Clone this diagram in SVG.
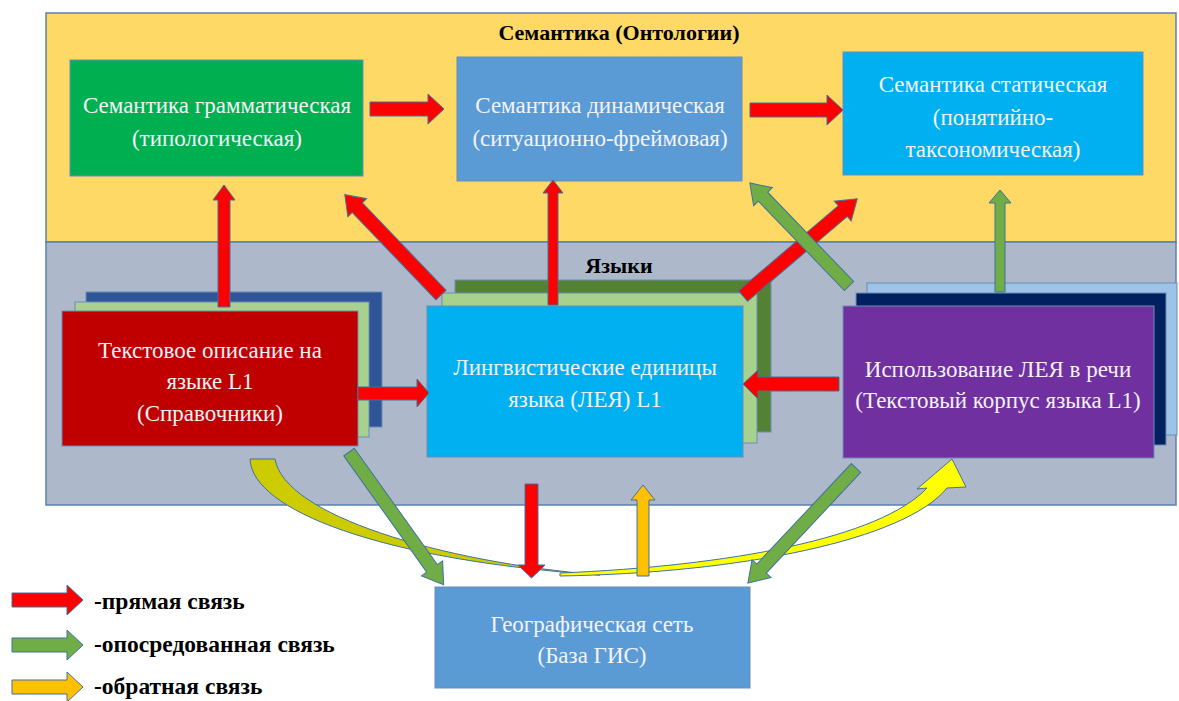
<svg xmlns="http://www.w3.org/2000/svg" width="1179" height="701" viewBox="0 0 1179 701">
<style>
.panel{stroke:#5B80B0;stroke-width:1.5}
.box{stroke:#6A8DB8;stroke-width:1}
.t{font-family:"Liberation Serif","Times New Roman",serif;font-size:23px;fill:#F4F2F8;text-anchor:middle}
.h{font-family:"Liberation Serif","Times New Roman",serif;font-size:22px;font-weight:bold;fill:#000;text-anchor:middle}
.lg{font-family:"Liberation Serif","Times New Roman",serif;font-size:23.5px;font-weight:bold;fill:#000}
.ar{stroke:#41719C;stroke-width:1;stroke-linejoin:miter}
.red{fill:#FF0000}.grn{fill:#70AD47}.org{fill:#FFC000}
</style>
<rect width="1179" height="701" fill="#FFFFFF"/>
<g id="panel-semantics">
<rect class="panel" x="46" y="13" width="1130" height="229" fill="#FFD966"/>
<text class="h" x="619" y="40">Семантика (Онтологии)</text>
</g>
<g id="panel-languages">
<rect class="panel" x="46" y="242" width="1130" height="263" fill="#ADB9CA"/>
<text class="h" x="619" y="273">Языки</text>
</g>
<g id="node-gram">
<rect class="box" x="70" y="60" width="293" height="116" fill="#00B050"/>
<text class="t" x="217" y="113">Семантика грамматическая</text>
<text class="t" x="217" y="146">(типологическая)</text>
</g>
<g id="node-dyn">
<rect class="box" x="457" y="57" width="285" height="124" fill="#5B9BD5"/>
<text class="t" x="600" y="113">Семантика динамическая</text>
<text class="t" x="600" y="146">(ситуационно-фреймовая)</text>
</g>
<g id="node-stat">
<rect class="box" x="843" y="52" width="300" height="123" fill="#00B0F0"/>
<text class="t" x="993" y="92">Семантика статическая</text>
<text class="t" x="993" y="125">(понятийно-</text>
<text class="t" x="993" y="157">таксономическая)</text>
</g>
<g id="node-text">
<rect x="86" y="292" width="296" height="135" fill="#2F5597" class="box"/>
<rect x="75" y="302" width="294" height="135" fill="#A9D18E" class="box"/>
<rect class="box" x="62" y="311" width="296" height="135" fill="#C00000"/>
<text class="t" x="210" y="358">Текстовое описание на</text>
<text class="t" x="210" y="389">языке L1</text>
<text class="t" x="210" y="421">(Справочники)</text>
</g>
<g id="node-lea">
<rect x="455" y="280" width="316" height="152" fill="#548235" class="box"/>
<rect x="442" y="293" width="315" height="150" fill="#A9D18E" class="box"/>
<rect class="box" x="427" y="306" width="316" height="151" fill="#00B0F0"/>
<text class="t" x="585" y="375">Лингвистические единицы</text>
<text class="t" x="585" y="407">языка (ЛЕЯ) L1</text>
</g>
<g id="node-usage">
<rect x="867" y="283" width="310" height="152" fill="#9DC3E6" class="box"/>
<rect x="856" y="293" width="310" height="152" fill="#002060" class="box"/>
<rect class="box" x="843" y="306" width="311" height="152" fill="#7030A0"/>
<text class="t" x="998" y="377">Использование ЛЕЯ в речи</text>
<text class="t" x="998" y="408">(Текстовый корпус языка L1)</text>
</g>
<g id="node-geo">
<rect class="box" x="435" y="587" width="315" height="101" fill="#5B9BD5"/>
<text class="t" x="592" y="632">Географическая сеть</text>
<text class="t" x="592" y="663">(База ГИС)</text>
</g>
<g id="connectors">
<path class="ar" fill="#CCCC00" d="M250,459 C252,510 380,560 600,575 C440,562 284,515 275,459 Z"/>
<path class="ar" fill="#FFFF00" d="M560,573 C730,566 880,538 927,488 L917,489 L952,459 L966,487 L947,488 C905,540 740,573 560,576 Z"/>
<polygon class="ar red" points="370,102 428,102 428,94 444,109 428,124 428,116 370,116"/>
<polygon class="ar red" points="750,103 827,103 827,95 843,110 827,125 827,117 750,117"/>
<polygon class="ar red" points="218,307 218,200 213,200 224,185 235,200 230,200 230,307"/>
<polygon class="ar red" points="548,305 548,193 543,193 553,180 563,193 558,193 558,305"/>
<polygon class="ar grn" points="995,292 995,203 989,203 1000,190 1011,203 1005,203 1005,292"/>
<polygon class="ar red" points="0,-7 121,-7 121,-13 139,0 121,13 121,7 0,7" transform="translate(441,295) rotate(-133.8)"/>
<polygon class="ar red" points="0,-7 131,-7 131,-13 150,0 131,13 131,7 0,7" transform="translate(743,296) rotate(-40.4)"/>
<polygon class="ar grn" points="0,-6.5 124,-6.5 124,-13 143,0 124,13 124,6.5 0,6.5" transform="translate(849,286) rotate(-133.9)"/>
<polygon class="ar red" points="358,387 417,387 417,379 429,393 417,407 417,400 358,400"/>
<polygon class="ar red" points="839,377 758,377 758,370 743,384 758,399 758,391 839,391"/>
<polygon class="ar grn" points="0,-6.5 143,-6.5 143,-13 163,0 143,13 143,6.5 0,6.5" transform="translate(349,452) rotate(54.5)"/>
<polygon class="ar grn" points="0,-6.5 138,-6.5 138,-13 158,0 138,13 138,6.5 0,6.5" transform="translate(856,468) rotate(133.2)"/>
<polygon class="ar red" points="525,484 538,484 538,565 545,565 531.5,578 518,565 525,565"/>
<polygon class="ar org" points="637,576 637,500 631,500 643,485 655,500 649,500 649,576"/>
</g>
<g id="legend">
<polygon class="ar red" points="12,593 67,593 67,585 83,600 67,615 67,607 12,607"/>
<text class="lg" x="94" y="609">-прямая связь</text>
<polygon class="ar grn" points="12,638 67,638 67,630 83,645 67,660 67,652 12,652"/>
<text class="lg" x="94" y="652">-опосредованная связь</text>
<polygon class="ar org" points="12,680 67,680 67,672 83,687 67,702 67,694 12,694"/>
<text class="lg" x="94" y="694">-обратная связь</text>
</g>
</svg>
